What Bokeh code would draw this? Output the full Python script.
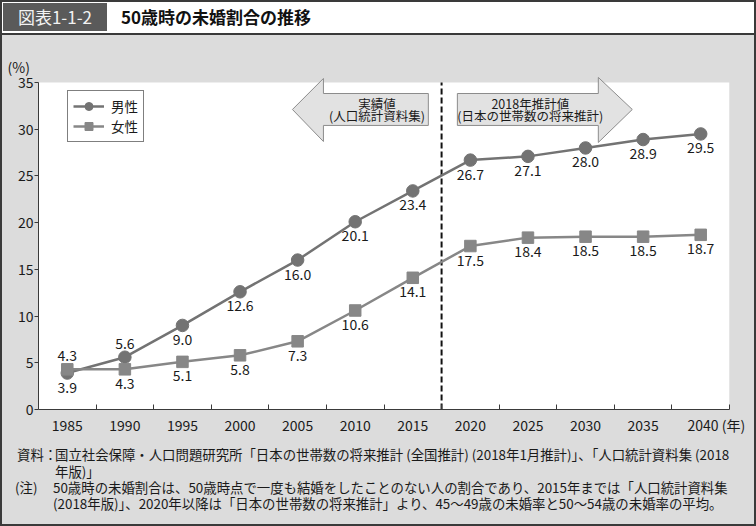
from bokeh.plotting import figure
from bokeh.models import (Range1d, FixedTicker, ColumnDataSource, Legend, LegendItem,
                          Title, Div)
from bokeh.layouts import column
from bokeh.core.properties import value
from bokeh.embed import file_html
from bokeh.resources import INLINE

# ---------------- data ----------------
years = [1985, 1990, 1995, 2000, 2005, 2010, 2015, 2020, 2025, 2030, 2035, 2040]
male = [3.9, 5.6, 9.0, 12.6, 16.0, 20.1, 23.4, 26.7, 27.1, 28.0, 28.9, 29.5]
female = [4.3, 4.3, 5.1, 5.8, 7.3, 10.6, 14.1, 17.5, 18.4, 18.5, 18.5, 18.7]
male_label_side = ["below", "above", "below", "below", "below", "below",
                   "below", "below", "below", "below", "below", "below"]
female_label_side = ["above", "below", "below", "below", "below", "below",
                     "below", "below", "below", "below", "below", "below"]
series_names = ["男性", "女性"]
y_ticks = [0, 5, 10, 15, 20, 25, 30, 35]
split_year = 2017.5
title_no = "図表1-1-2"
title_text = "50歳時の未婚割合の推移"
y_unit = "(%)"
x_unit = "(年)"
arrow_left_text = ["実績値", "(人口統計資料集)"]
arrow_right_text = ["2018年推計値", "(日本の世帯数の将来推計)"]
note_heads = ["資料：", "", "(注)", ""]
note_bodies = [
    "国立社会保障・人口問題研究所「日本の世帯数の将来推計 (全国推計) (2018年1月推計)」、「人口統計資料集 (2018",
    "年版)」",
    "50歳時の未婚割合は、50歳時点で一度も結婚をしたことのない人の割合であり、2015年までは「人口統計資料集",
    "(2018年版)」、2020年以降は「日本の世帯数の将来推計」より、45～49歳の未婚率と50～54歳の未婚率の平均。",
]

FONT = "Noto Sans CJK JP"
GRAY = "#dcdcdc"
DARK = "#3a3a3a"
MALE_C = "#737373"
FEMALE_C = "#878787"
TXT = "#1a1a1a"
W = 752

# ---------------- title band (HTML) ----------------
TH = 33
title_html = (
    f'<div style="position:relative;width:{W}px;height:{TH}px;background:white;'
    f'font-family:\'{FONT}\';white-space:nowrap;">'
    f'<div style="position:absolute;left:1px;top:1px;width:104px;height:28px;'
    f'background:#5a5a5a;color:#f2f2f2;font-size:17px;line-height:28px;'
    f'text-align:center;">{title_no}</div>'
    f'<div style="position:absolute;left:119px;top:1px;height:28px;line-height:28px;'
    f'font-size:17px;font-weight:bold;color:#111;">{title_text}</div>'
    f'<div style="position:absolute;left:0;top:{TH - 2}px;width:{W}px;height:2px;'
    f'background:{DARK};"></div></div>'
)
top = Div(text=title_html, width=W, height=TH, margin=(0, 0, 0, 0))

# ---------------- chart ----------------
MH = 405
MB_L, MB_R, MB_T, MB_B = 36, 25, 41, 31
X0, X1 = years[0] - 2.5, years[-1] + 2.5
Y1 = 35.65
p = figure(width=W, height=MH, x_range=Range1d(X0, X1), y_range=Range1d(0, Y1),
           output_backend="svg", toolbar_location=None,
           min_border_left=MB_L, min_border_right=MB_R, min_border_top=MB_T,
           min_border_bottom=MB_B,
           background_fill_color=GRAY, border_fill_color=GRAY, outline_line_color=None)
p.grid.visible = False

# white plotting area
p.quad(left=[X0], right=[X1], bottom=[0], top=[y_ticks[-1]], fill_color="white", line_color=None)

# arrows
left_arrow_x = [2004.55, 2007.24, 2007.24, 2016.35, 2016.35, 2007.24, 2007.24]
left_arrow_y = [32.12, 35.44, 33.83, 33.83, 30.41, 30.41, 28.69]
right_arrow_x = [2034.06, 2031.11, 2031.11, 2018.87, 2018.87, 2031.11, 2031.11]
right_arrow_y = [32.12, 35.55, 33.83, 33.83, 30.41, 30.41, 28.59]
for ax, ay in ((left_arrow_x, left_arrow_y), (right_arrow_x, right_arrow_y)):
    p.patch(ax, ay, fill_color="#e2e2e2", line_color="#8c8c8c", line_width=1)
p.text(x=[2011.9, 2011.9], y=[32.76, 31.48], text=arrow_left_text, text_align="center",
       text_baseline="middle", text_color=TXT, text_font=value(FONT), text_font_size="12.5px")
p.text(x=[2025.2, 2025.2], y=[32.76, 31.48], text=arrow_right_text, text_align="center",
       text_baseline="middle", text_color=TXT, text_font=value(FONT), text_font_size="12.5px")

# divider
p.segment(x0=[split_year], y0=[0], x1=[split_year], y1=[y_ticks[-1]],
          line_color="#111111", line_width=2, line_dash="6 3")

# series
lm = p.line(years, male, line_color=MALE_C, line_width=2.5)
sm = p.scatter(years, male, marker="circle", size=12.5, fill_color=MALE_C, line_color=MALE_C)
lf = p.line(years, female, line_color=FEMALE_C, line_width=2.5)
sf = p.scatter(years, female, marker="square", size=11.5, fill_color=FEMALE_C, line_color=FEMALE_C)

def label_source(vals, sides):
    return ColumnDataSource(dict(
        x=years, y=vals, t=[f"{v:.1f}" for v in vals],
        off=[-14 if s == "above" else 14 for s in sides]))

for vals, sides in ((male, male_label_side), (female, female_label_side)):
    p.text(x="x", y="y", text="t", y_offset="off", source=label_source(vals, sides),
           text_align="center", text_baseline="middle", text_color=TXT,
           text_font=value(FONT), text_font_size="14px")

# axes
NB = "\u00a0"
p.xaxis.ticker = FixedTicker(ticks=years, minor_ticks=[y + 2.5 for y in years])
p.xaxis.major_label_overrides = {years[-1]: NB * 10 + f"{years[-1]} {x_unit}"}
p.xaxis.major_tick_in = 0
p.xaxis.major_tick_out = 0
p.xaxis.major_tick_line_color = None
p.xaxis.minor_tick_in = 5
p.xaxis.minor_tick_out = 0
p.xaxis.minor_tick_line_color = DARK
p.xaxis.axis_line_color = DARK
p.xaxis.major_label_standoff = 5
p.xaxis.major_label_text_font = FONT
p.xaxis.major_label_text_font_size = "14px"
p.xaxis.major_label_text_color = TXT

p.yaxis.ticker = FixedTicker(ticks=y_ticks)
p.yaxis.bounds = (0, y_ticks[-1])
p.yaxis.major_tick_in = 0
p.yaxis.major_tick_out = 4
p.yaxis.minor_tick_line_color = None
p.yaxis.major_tick_line_color = DARK
p.yaxis.axis_line_color = DARK
p.yaxis.major_label_standoff = 1
p.yaxis.major_label_text_font = FONT
p.yaxis.major_label_text_font_size = "14px"
p.yaxis.major_label_text_color = TXT

p.add_layout(Title(text=y_unit, align="left", offset=-31, standoff=0,
                   vertical_align="bottom", text_font=FONT, text_font_size="14px",
                   text_font_style="normal", text_color=TXT), "above")

# legend
frame_h = MH - MB_T - MB_B
leg_h = 50
legend = Legend(items=[LegendItem(label=series_names[0], renderers=[lm, sm]),
                       LegendItem(label=series_names[1], renderers=[lf, sf])],
                location=(29, frame_h - 16 - leg_h), orientation="vertical",
                border_line_color="black", border_line_width=1,
                background_fill_color="white", background_fill_alpha=1.0,
                padding=5, spacing=0, margin=0, glyph_width=31, glyph_height=20,
                label_height=20, label_standoff=7, label_text_font=FONT,
                label_text_font_size="13.5px", label_text_color=TXT,
                label_text_baseline="middle")
p.add_layout(legend)

# ---------------- notes (HTML) ----------------
BH = 84
line_y = [14, 30.7, 46.7, 62.7]
head_x = [15, 15, 13, 13]
body_x = [53, 53, 51, 51]
parts = [f'<div style="position:relative;width:{W}px;height:{BH}px;background:{GRAY};'
         f'font-family:\'{FONT}\';font-size:13.4px;color:{TXT};white-space:nowrap;'
         f'line-height:16px;">']
for hy, hx, head, bx, body in zip(line_y, head_x, note_heads, body_x, note_bodies):
    if head:
        parts.append(f'<div style="position:absolute;left:{hx}px;top:{hy - 8:.1f}px;">{head}</div>')
    parts.append(f'<div style="position:absolute;left:{bx}px;top:{hy - 8:.1f}px;">{body}</div>')
parts.append('</div>')
bot = Div(text="".join(parts), width=W, height=BH, margin=(0, 0, 0, 0))

layout = column(top, p, bot, spacing=0,
                styles={"border": f"2px solid {DARK}", "background-color": GRAY})

with open("out.html", "w") as f:
    f.write(file_html(layout, INLINE))
